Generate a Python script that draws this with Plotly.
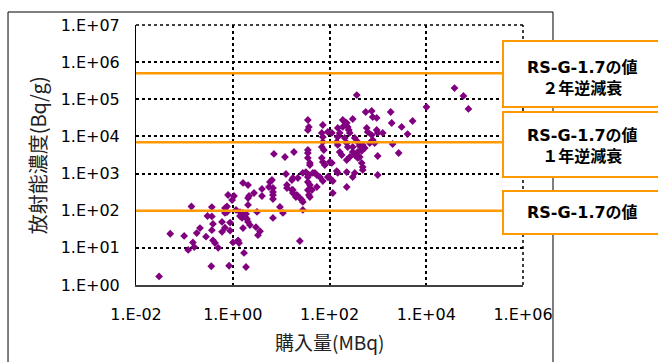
import plotly.graph_objects as go

# purchased activity (MBq) and specific activity (Bq/g)
purchase_mbq = [
    0.030, 0.051, 0.099, 0.12, 0.15, 0.16, 0.14, 0.18, 0.21, 0.30,
    0.37, 0.37, 0.28, 0.37, 0.39, 0.39, 0.43, 0.50, 0.36, 0.60,
    0.60, 0.69, 0.69, 0.76, 0.80, 0.97, 1.06, 0.88, 0.88, 0.76,
    0.84, 1.01, 1.29, 1.35, 1.71, 1.88, 1.63, 1.17, 1.41, 1.63,
    1.79, 1.97, 2.07, 1.56, 2.27, 3.02, 3.66, 3.32, 3.17, 2.07,
    2.17, 2.75, 1.63, 2.07, 4.02, 4.02, 5.87, 6.78, 6.78, 6.78,
    13.2, 17.5, 21.2, 9.45, 10.9, 6.78, 1.71, 1.88, 1.41, 24.4,
    6.46, 5.6, 6.78, 2.07, 0.69,
    7.1, 12.0, 18.4, 35.7, 35.7, 35.7, 39.3, 39.3, 12.6, 16.7,
    17.5, 22.2, 28.1, 32.5, 37.4, 35.7, 49.8, 54.7, 63.1, 101,
    117, 13.2, 16.7, 17.5, 20.2, 24.4, 26.8, 28.1, 28.1, 37.4,
    35.7, 39.3, 35.7, 43.2, 54.7, 39.3, 72.8, 117, 141, 148,
    366, 38400, 58700, 74500, 10100, 1840, 560, 745, 781, 945,
    1930, 3100, 5220, 4110, 2020, 2690, 991, 188, 207, 227,
    188, 238, 250, 262, 302, 148, 163, 35.7, 37.4, 35.7,
    72.8, 69.4, 72.8, 92.2, 112, 588, 616, 745, 945, 991,
    1260, 781, 859, 678, 486, 333, 383, 421, 535, 463,
    383, 302, 148, 141, 148, 163, 179, 207, 227, 238,
    262, 227, 302, 333, 383, 463, 486, 486, 991, 72.8,
    69.4, 76.3, 69.4, 72.8, 80, 101, 112, 227, 333, 302,
    45.3, 92.2, 227, 421,
]
concentration_bq_g = [
    1.7, 24, 21, 8.8, 14, 10.5, 130, 25, 34, 72,
    70, 125, 20, 30, 44, 16, 13.5, 10, 3.2, 50,
    27, 35, 87, 130, 265, 194, 249, 48, 29, 92,
    3.3, 14, 16, 13.5, 7.3, 3.05, 34, 105, 92, 87,
    68, 60, 50, 64, 41, 36, 28, 22, 93, 143,
    250, 300, 560, 490, 385, 249, 593, 409, 265, 207,
    493, 361, 265, 126, 87, 64, 77, 82, 72, 15.3,
    671, 435, 319, 220, 118,
    3370, 2790, 3810, 4310, 3580, 2630, 1930, 1700, 975, 671,
    760, 760, 1040, 1100, 916, 809, 1040, 916, 809, 760,
    631, 409, 361, 300, 234, 220, 194, 172, 105, 265,
    593, 493, 361, 361, 435, 234, 631, 300, 1170, 1040,
    130000, 200000, 123000, 55000, 62000, 45500, 45500, 48400, 33400, 31400,
    23000, 18000, 26000, 11600, 6250, 3580, 2970, 27700, 24500, 23000,
    18000, 18000, 14900, 12400, 29500, 16900, 12400, 27700, 18000, 14900,
    20300, 12400, 9660, 13200, 12400, 16900, 13200, 10900, 14900, 12400,
    12400, 8020, 6660, 6660, 5890, 9080, 7080, 5530, 4880, 4060,
    3810, 3810, 9660, 7080, 5890, 3810, 3160, 9080, 6660, 5200,
    2790, 2320, 5200, 3160, 2630, 1930, 1500, 1250, 916, 7080,
    5200, 4310, 2630, 2050, 1700, 2050, 1930, 1100, 1040, 809,
    1040, 809, 435, 2790,
]

# RS-G-1.7 guide values (Bq/g): value, 1-year back-decay, 2-year back-decay
guide_values = [100, 7000, 500000]
guide_labels = ["RS-G-1.7の値", "RS-G-1.7の値<br>１年逆減衰", "RS-G-1.7の値<br>２年逆減衰"]

x_tickvals = [1e-2, 1e0, 1e2, 1e4, 1e6]
x_ticktext = ["1.E-02", "1.E+00", "1.E+02", "1.E+04", "1.E+06"]
y_tickvals = [1e0, 1e1, 1e2, 1e3, 1e4, 1e5, 1e6, 1e7]
y_ticktext = ["1.E+00", "1.E+01", "1.E+02", "1.E+03", "1.E+04", "1.E+05", "1.E+06", "1.E+07"]

ORANGE = "#FF9900"
PURPLE = "#800080"
LATIN = "DejaVu Sans, sans-serif"
CJK = "Noto Sans CJK JP, sans-serif"
MIXED = "DejaVu Sans, Noto Sans CJK JP, sans-serif"

fig = go.Figure()
fig.add_trace(go.Scatter(
    x=purchase_mbq, y=concentration_bq_g, mode="markers",
    marker=dict(symbol="diamond", size=6, color=PURPLE, line=dict(width=0)),
    showlegend=False, hoverinfo="x+y",
))

dotted = dict(color="black", width=1.5, dash="dot")
shapes = [
    # outer chart frame
    dict(type="rect", xref="paper", yref="paper", x0=-0.3307, x1=1.0775, y0=-0.35, y1=1.05,
         line=dict(color="black", width=1), fillcolor="rgba(0,0,0,0)", layer="below"),
    # dotted top and right borders of the plot area
    dict(type="line", xref="x domain", yref="y domain", x0=0, x1=1, y0=1, y1=1,
         line=dotted, layer="below"),
    dict(type="line", xref="x domain", yref="y domain", x0=1, x1=1, y0=0, y1=1,
         line=dotted, layer="below"),
]
for v in guide_values:
    shapes.append(dict(type="line", xref="paper", yref="y", x0=0, x1=0.95, y0=v, y1=v,
                       line=dict(color=ORANGE, width=2.5), layer="above"))

boxes = [(0.1962, 0.3615, 0.277), (0.4154, 0.6654, 0.533), (0.6846, 0.9385, 0.798)]
annotations = []
for (y0, y1, yc), label in zip(boxes, guide_labels):
    shapes.append(dict(type="rect", xref="paper", yref="paper", x0=0.9483, x1=1.6, y0=y0, y1=y1,
                       line=dict(color=ORANGE, width=2), fillcolor="white", layer="above"))
    annotations.append(dict(xref="paper", yref="paper", x=1.155, y=yc, text="<b>" + label + "</b>",
                            showarrow=False, xanchor="center", yanchor="middle",
                            font=dict(family=MIXED, size=16, color="black")))

annotations.append(dict(xref="paper", yref="paper", x=-0.255, y=0.5, text="放射能濃度(Bq/g)",
                        textangle=-90, showarrow=False, xanchor="center", yanchor="middle",
                        font=dict(family=CJK, size=20, color="#222222")))
annotations.append(dict(xref="paper", yref="paper", x=0.501, y=-0.219, text="購入量(MBq)",
                        showarrow=False, xanchor="center", yanchor="middle",
                        font=dict(family=CJK, size=19, color="#222222")))

fig.update_layout(
    width=658, height=362,
    margin=dict(l=136, r=135, t=25, b=77, pad=0),
    paper_bgcolor="white", plot_bgcolor="white",
    shapes=shapes, annotations=annotations,
    xaxis=dict(type="log", range=[-2, 6], tickvals=x_tickvals, ticktext=x_ticktext,
               showgrid=True, gridcolor="black", griddash="dot", gridwidth=1.5,
               showline=True, linecolor="#404040", linewidth=2, ticks="",
               ticklabelstandoff=14, zeroline=False,
               tickfont=dict(family=LATIN, size=16, color="black")),
    yaxis=dict(type="log", range=[0, 7], tickvals=y_tickvals, ticktext=y_ticktext,
               showgrid=True, gridcolor="black", griddash="dot", gridwidth=1.5,
               showline=True, linecolor="black", linewidth=1, ticks="",
               ticklabelstandoff=12, zeroline=False,
               tickfont=dict(family=LATIN, size=16, color="black")),
)

fig.write_html("out.html")
